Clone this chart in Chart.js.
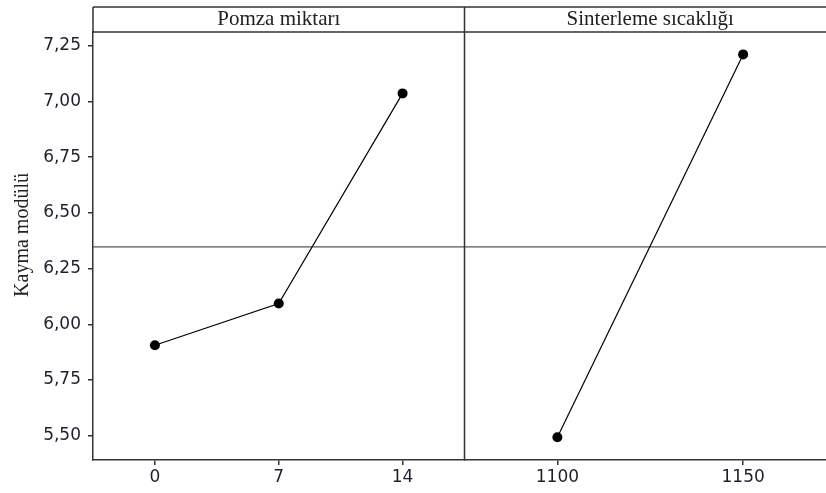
<!DOCTYPE html>
<html>
<head>
<meta charset="utf-8">
<script src="https://cdn.jsdelivr.net/npm/chart.js@4/dist/chart.umd.min.js"></script>
<style>
  html, body { margin: 0; padding: 0; overflow: hidden; background: #fff; width: 826px; height: 493px; }
  #wrap { width: 841px; height: 493px; }
</style>
</head>
<body>
<div id="wrap"><canvas id="c" width="841" height="493"></canvas></div>
<script>
// Main effects: mean shear modulus for each factor level
const pomzaLevels = [0, 7, 14];
const pomzaMeans = [5.906, 6.093, 7.036];
const sinterLevels = [1100, 1150];
const sinterMeans = [5.493, 7.211];
const yTicks = [5.50, 5.75, 6.00, 6.25, 6.50, 6.75, 7.00, 7.25];
const grandMean = 6.347;
const panelTitles = ['Pomza miktarı', 'Sinterleme sıcaklığı'];
const yTitle = 'Kayma modülü';

const ink = '#1e1e2e';
const frame = '#333333';
const tickFont = { family: 'DejaVu Sans', size: 17 };
const serif = '21px "Liberation Serif"';

function xAxis(levels, min, max) {
  return {
    type: 'linear',
    position: 'bottom',
    stack: 'panels',
    stackWeight: 1,
    min: min,
    max: max,
    afterBuildTicks: s => { s.ticks = levels.map(v => ({ value: v })); },
    afterFit: s => { s.height = 33; },
    grid: { display: true, drawOnChartArea: false, drawTicks: true, tickLength: 5, color: frame, lineWidth: 1.5 },
    border: { display: true, color: frame, width: 1.5 },
    ticks: { font: tickFont, color: ink, padding: 2, autoSkip: false, maxRotation: 0, callback: v => String(v) }
  };
}

// Frame, panel strips, and the overall mean reference line
const panelDecor = {
  id: 'panelDecor',
  beforeDatasetsDraw(chart) {
    const { ctx, chartArea, scales } = chart;
    const yMean = scales.y.getPixelForValue(grandMean);
    ctx.save();
    ctx.strokeStyle = '#555';
    ctx.lineWidth = 1.3;
    ctx.beginPath();
    ctx.moveTo(chartArea.left, yMean);
    ctx.lineTo(chartArea.right, yMean);
    ctx.stroke();
    ctx.restore();
  },
  afterDraw(chart) {
    const { ctx, chartArea, scales } = chart;
    const top = 7;
    const left = chartArea.left;
    const right = chartArea.right;
    const divider = scales.x1.right;
    ctx.save();
    ctx.strokeStyle = frame;
    ctx.lineWidth = 1.5;
    ctx.beginPath();
    ctx.moveTo(left, top); ctx.lineTo(right, top);
    ctx.moveTo(left, chartArea.top); ctx.lineTo(right, chartArea.top);
    ctx.moveTo(left, top); ctx.lineTo(left, chartArea.top);
    ctx.moveTo(divider, top); ctx.lineTo(divider, chartArea.bottom);
    ctx.stroke();

    ctx.fillStyle = '#222';
    ctx.font = serif;
    ctx.textAlign = 'center';
    ctx.textBaseline = 'alphabetic';
    const c1 = (scales.x1.left + scales.x1.right) / 2;
    const c2 = (scales.x2.left + scales.x2.right) / 2;
    ctx.fillText(panelTitles[0], c1, 25);
    ctx.fillText(panelTitles[1], c2, 25);

    ctx.font = '20px "Liberation Serif"';
    ctx.translate(28, 235);
    ctx.rotate(-Math.PI / 2);
    ctx.fillText(yTitle, 0, 0);
    ctx.restore();
  }
};

const lineStyle = {
  borderColor: '#000',
  borderWidth: 1.2,
  pointRadius: 5,
  pointBackgroundColor: '#000',
  pointBorderWidth: 0,
  tension: 0,
  fill: false
};

new Chart(document.getElementById('c'), {
  type: 'line',
  data: {
    datasets: [
      Object.assign({ label: panelTitles[0], xAxisID: 'x1',
        data: pomzaLevels.map((x, i) => ({ x: x, y: pomzaMeans[i] })) }, lineStyle),
      Object.assign({ label: panelTitles[1], xAxisID: 'x2',
        data: sinterLevels.map((x, i) => ({ x: x, y: sinterMeans[i] })) }, lineStyle)
    ]
  },
  options: {
    responsive: false,
    animation: false,
    layout: { padding: { top: 32, left: 0, right: 0, bottom: 0 } },
    plugins: { legend: { display: false }, tooltip: { enabled: false } },
    scales: {
      x1: xAxis(pomzaLevels, -3.5, 17.5),
      x2: xAxis(sinterLevels, 1075, 1175),
      y: {
        type: 'linear',
        position: 'left',
        min: 5.391,
        max: 7.3115,
        afterBuildTicks: s => { s.ticks = yTicks.map(v => ({ value: v })); },
        afterFit: s => { s.width = 93; },
        grid: { display: true, drawOnChartArea: false, drawTicks: true, tickLength: 5, color: frame, lineWidth: 1.5 },
        border: { display: true, color: frame, width: 1.5 },
        ticks: { font: tickFont, color: ink, padding: 7, callback: v => v.toFixed(2).replace('.', ',') }
      }
    }
  },
  plugins: [panelDecor]
});
</script>
</body>
</html>
